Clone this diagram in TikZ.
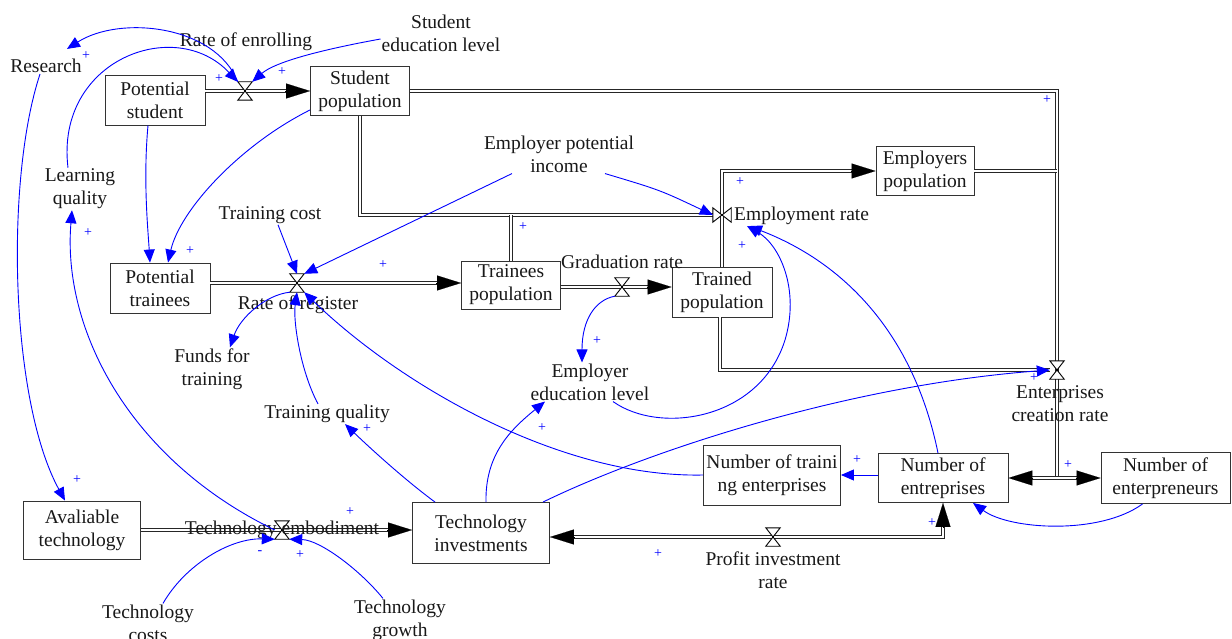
\documentclass[tikz,border=0pt]{standalone}
\usepackage{fontspec}
\setmainfont{Liberation Serif}
\usetikzlibrary{arrows.meta}
\newcommand\fs{\rmfamily\fontsize{19.5}{23}\selectfont}
\newcommand\vvalve[1]{\draw[valveline] (#1.north west) -- (#1.north east) -- (#1.south west) -- (#1.south east) -- cycle;}
\newcommand\hvalve[1]{\draw[valveline] (#1.north west) -- (#1.south west) -- (#1.north east) -- (#1.south east) -- cycle;}
\tikzset{
 stock/.style={draw=black!80, line width=0.9pt, fill=white, align=center, inner sep=1pt, font=\fs, text=black!90},
 var/.style={align=center, inner sep=1pt, font=\fs, text=black!90},
 flow/.style={draw=black!85, line width=0.9pt, double=white, double distance=2.2pt},
 ftip/.style={line width=0.1pt, black, -{Triangle[length=24pt,width=15pt]}},
 causal/.style={draw=blue, line width=0.9pt, -{Triangle[length=13pt,width=11pt]}},
 sgn/.style={text=blue, font=\fontsize{14}{14}\selectfont, inner sep=0pt},
 vvalvenode/.style={minimum width=14pt, minimum height=18pt, inner sep=0pt},
 hvalvenode/.style={minimum width=18pt, minimum height=14pt, inner sep=0pt},
 valveline/.style={draw=black, line width=0.9pt, fill=white},
}
\begin{document}
\begin{tikzpicture}[x=1pt,y=-1pt]
\fill[white] (0,0) rectangle (1232,639);
\useasboundingbox (0,0) rectangle (1232,639);

% stocks
\node[stock, minimum width=100pt, minimum height=50pt] (ps) at (155,100) {Potential\\student};
\node[stock, minimum width=99pt, minimum height=49pt] (sp) at (360,91) {Student\\population};
\node[stock, minimum width=98pt, minimum height=49pt] (emp) at (925,171) {Employers\\population};
\node[stock, minimum width=100pt, minimum height=50pt] (pt) at (160,288) {Potential\\trainees};
\node[stock, minimum width=99pt, minimum height=48pt] (tp) at (511,285) {Trainees\\population};
\node[stock, minimum width=100pt, minimum height=50pt] (trp) at (722,292) {Trained\\population};
\node[stock, minimum width=137pt, minimum height=60pt] (nte) at (772,475) {Number of traini\\ng enterprises};
\node[stock, minimum width=130pt, minimum height=49pt] (ne) at (943,478) {Number of\\entreprises};
\node[stock, minimum width=129pt, minimum height=51pt] (nep) at (1165.5,478) {Number of\\enterpreneurs};
\node[stock, minimum width=117pt, minimum height=58pt] (at) at (82,530) {Avaliable\\technology};
\node[stock, minimum width=137pt, minimum height=61pt] (ti) at (481,533) {Technology\\investments};

% valves (anchors)
\node[vvalvenode] (v1) at (245,91) {};
\node[vvalvenode] (v2) at (297,283) {};
\node[vvalvenode] (vg) at (622,287) {};
\node[hvalvenode] (ve) at (722,215) {};
\node[vvalvenode] (vc) at (1057,370) {};
\node[vvalvenode] (vt) at (282,530) {};
\node[vvalvenode] (vp) at (773,537) {};

% flows
\draw[flow] ([yshift=9pt]ps.east) -- ([xshift=-24pt]sp.west);
\draw[ftip] ([xshift=-25pt]sp.west) -- (sp.west);
\draw[flow] (sp.east) -| (1057,478);
\draw[flow] (emp.east) -- (1057,171);
\draw[flow] ([xshift=24pt]ne.east) -- ([xshift=-24pt]nep.west);
\draw[ftip] ([xshift=25pt]ne.east) -- (ne.east);
\draw[ftip] ([xshift=-25pt]nep.west) -- (nep.west);
\draw[flow] (sp.south) |- (ve.west);
\draw[flow] (tp.north) -- (tp.north |- ve.west);
\draw[flow] (trp.north) |- ([xshift=-24pt]emp.west);
\draw[ftip] ([xshift=-25pt]emp.west) -- (emp.west);
\draw[flow] ([xshift=-2pt]trp.south) |- (vc.west);
\draw[flow] ([yshift=5pt]pt.east) -- ([xshift=-24pt,yshift=2pt]tp.west);
\draw[ftip] ([xshift=-25pt,yshift=2pt]tp.west) -- ([yshift=2pt]tp.west);
\draw[flow] ([yshift=-2pt]tp.east) -- ([xshift=-24pt,yshift=5pt]trp.west);
\draw[ftip] ([xshift=-25pt,yshift=5pt]trp.west) -- ([yshift=5pt]trp.west);
\draw[flow] (at.east) -- ([xshift=-24pt,yshift=3pt]ti.west);
\draw[ftip] ([xshift=-25pt,yshift=3pt]ti.west) -- ([yshift=3pt]ti.west);
\draw[flow] ([yshift=-24pt]ne.south) |- ([xshift=24pt,yshift=-4pt]ti.east);
\draw[ftip] ([yshift=-25pt]ne.south) -- (ne.south);
\draw[ftip] ([xshift=25pt,yshift=-4pt]ti.east) -- ([yshift=-4pt]ti.east);

% valve symbols
\vvalve{v1}
\vvalve{v2}
\vvalve{vg}
\hvalve{ve}
\vvalve{vc}
\vvalve{vt}
\vvalve{vp}

% auxiliary variables
\node[var] (res) at (46,66) {Research};
\node[var] (roe) at (246,42) {Rate of enrolling};
\node[var] (sel) at (441,33) {Student\\education level};
\node[var] (lq) at (80,189) {Learning\\quality};
\node[var] (epi) at (559,154) {Employer potential\\income};
\node[var] (tc) at (270,215) {Training cost};
\node[var] (ror) at (298,305) {Rate of register};
\node[var] (fft) at (212,369) {Funds for\\training};
\node[var] (gr) at (622,262) {Graduation rate};
\node[var, anchor=west] (er) at (733,216) {Employment rate};
\node[var] (eel) at (590,382) {Employer\\education level};
\node[var] (tq) at (327,414) {Training quality};
\node[var] (ecr) at (1060,404) {Enterprises\\creation rate};
\node[var] (temb) at (282,530) {Technology embodiment};
\node[var] (tcost) at (148,623) {Technology\\costs};
\node[var] (tgr) at (400,620) {Technology\\growth};
\node[var] (pir) at (773,570) {Profit investment\\rate};

% causal links
\draw[causal] (v1.north west) .. controls (215,25) and (120,15) .. ([xshift=21pt,yshift=9pt]res.north);
\draw[causal] ([xshift=-12pt]lq.north) .. controls (55,60) and (175,15) .. (v1.north west);
\draw[causal] ([yshift=-6pt]sel.west) .. controls (320,50) and (275,62) .. (v1.north east);
\draw[causal] ([xshift=-7pt]ps.south) .. controls (143,180) and (148,230) .. ([xshift=-10pt]pt.north);
\draw[causal] ([yshift=6pt]sp.south west) .. controls (240,145) and (180,210) .. ([xshift=8pt]pt.north);
\draw[causal] ([xshift=-6pt]res.south) .. controls (5,180) and (10,400) .. ([xshift=-17pt]at.north);
\draw[causal] (vt.west) .. controls (130,460) and (62,330) .. ([xshift=-8pt]lq.south);
\draw[causal] ([xshift=15pt]tcost.north) .. controls (185,565) and (230,538) .. (vt.south west);
\draw[causal] ([xshift=-17pt]tgr.north) .. controls (360,570) and (320,540) .. (vt.south east);
\draw[causal] ([xshift=8pt]tc.south) -- (v2.north);
\draw[causal] ([xshift=-47pt]epi.south) -- (v2.north east);
\draw[causal] ([xshift=46pt]epi.south) .. controls (660,190) .. (ve.west);
\draw[causal] (v2.south west) .. controls (265,295) and (240,318) .. ([xshift=18pt]fft.north);
\draw[causal] ([xshift=-9pt]tq.north) .. controls (300,370) and (293,320) .. (v2.south);
\draw[causal] (nte.west) .. controls (560,478) and (400,385) .. (v2.south east);
\draw[causal] ([xshift=-46pt]ti.north) .. controls (405,480) and (370,448) .. ([xshift=18pt]tq.south);
\draw[causal] ([xshift=5pt]ti.north) .. controls (485,455) and (510,430) .. ([xshift=-45pt]eel.south);
\draw[causal] ([xshift=62pt]ti.north) .. controls (650,450) and (850,385) .. (vc.west);
\draw[causal] (vg.south west) .. controls (595,300) and (582,320) .. ([xshift=-8pt]eel.north);
\draw[causal] ([xshift=23pt]eel.south) .. controls (660,435) and (760,420) .. (785,340) .. controls (800,290) and (780,245) .. ([xshift=14pt]er.south west);
\draw[causal] ([xshift=-5pt]ne.north) .. controls (915,340) and (850,265) .. ([xshift=16pt]er.south west);
\draw[causal] (ne.west |- nte.east) -- (nte.east);
\draw[causal] ([xshift=-23pt]nep.south) .. controls (1100,535) and (1010,530) .. ([xshift=30pt]ne.south);

% polarity signs
\node[sgn] (s1) at (86,56) {+};
\node[sgn] (s2) at (219,79) {+};
\node[sgn] (s3) at (282,72) {+};
\node[sgn] (s4) at (190,251) {+};
\node[sgn] (s5) at (88,233) {+};
\node[sgn] (s6) at (77,480) {+};
\node[sgn] (s7) at (350,512) {+};
\node[sgn] (s8) at (260,553) {-};
\node[sgn] (s9) at (300,555) {+};
\node[sgn] (s10) at (367,429) {+};
\node[sgn] (s11) at (383,265) {+};
\node[sgn] (s12) at (523,227) {+};
\node[sgn] (s13) at (542,428) {+};
\node[sgn] (s14) at (597,341) {+};
\node[sgn] (s15) at (740,182) {+};
\node[sgn] (s16) at (742,246) {+};
\node[sgn] (s17) at (1047,100) {+};
\node[sgn] (s18) at (1034,378) {+};
\node[sgn] (s19) at (857,460) {+};
\node[sgn] (s20) at (1068,465) {+};
\node[sgn] (s21) at (932,523) {+};
\node[sgn] (s22) at (658,554) {+};
\end{tikzpicture}
\end{document}
